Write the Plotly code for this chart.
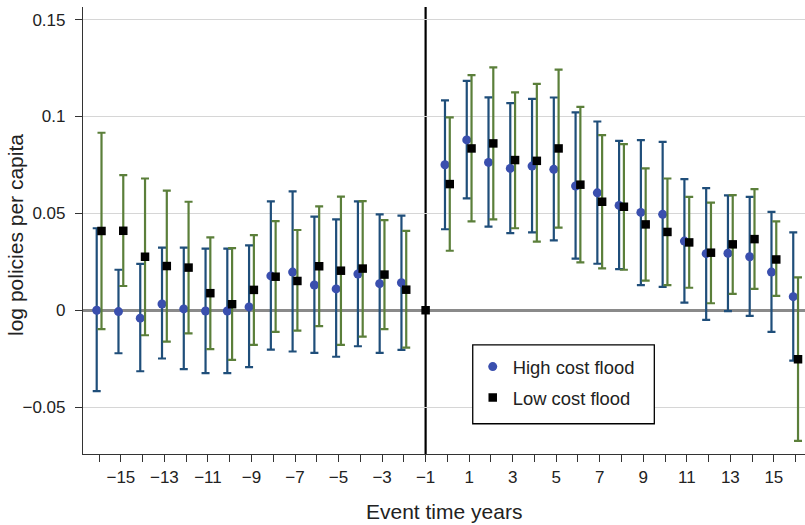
import plotly.graph_objects as go

event_time = list(range(-16, 17))

# High cost flood (blue circles)
high_est = [0.000, -0.0007, -0.0041, 0.0032, 0.0007, -0.0004, -0.0004, 0.0017, 0.0177, 0.0197,
            0.0130, 0.0110, 0.0187, 0.0137, 0.0142, None,
            0.0751, 0.0879, 0.0763, 0.0732, 0.0744, 0.0727, 0.0641, 0.0606, 0.0541, 0.0505,
            0.0495, 0.0357, 0.0292, 0.0294, 0.0276, 0.0197, 0.0070]
high_hi = [0.0423, 0.0209, 0.0239, 0.0323, 0.0323, 0.0318, 0.0318, 0.0335, 0.0562, 0.0613,
           0.0483, 0.0469, 0.0562, 0.0495, 0.0488, None,
           0.1083, 0.1184, 0.1099, 0.1069, 0.1091, 0.1098, 0.1021, 0.0974, 0.0874, 0.0878,
           0.0869, 0.0677, 0.0630, 0.0593, 0.0585, 0.0508, 0.0402]
high_lo = [-0.0418, -0.0222, -0.0315, -0.0249, -0.0304, -0.0325, -0.0325, -0.0294, -0.0203, -0.0213,
           -0.0220, -0.0240, -0.0186, -0.0220, -0.0205, None,
           0.0418, 0.0577, 0.0431, 0.0398, 0.0402, 0.0361, 0.0266, 0.0240, 0.0212, 0.0130,
           0.0121, 0.0039, -0.0050, -0.0005, -0.0029, -0.0112, -0.0260]

# Low cost flood (black squares)
low_est = [0.0409, 0.0410, 0.0276, 0.0228, 0.0220, 0.0088, 0.0031, 0.0105, 0.0173, 0.0151,
           0.0227, 0.0204, 0.0215, 0.0184, 0.0106, None,
           0.0651, 0.0835, 0.0861, 0.0775, 0.0771, 0.0835, 0.0648, 0.0560, 0.0534, 0.0443,
           0.0404, 0.0350, 0.0297, 0.0340, 0.0367, 0.0262, -0.0253]
low_hi = [0.0916, 0.0697, 0.0680, 0.0617, 0.0560, 0.0376, 0.0321, 0.0388, 0.0460, 0.0414,
          0.0536, 0.0586, 0.0563, 0.0465, 0.0410, None,
          0.0995, 0.1213, 0.1253, 0.1124, 0.1168, 0.1242, 0.1050, 0.0904, 0.0857, 0.0732,
          0.0680, 0.0585, 0.0555, 0.0594, 0.0625, 0.0459, 0.0170]
low_lo = [-0.0098, 0.0125, -0.0129, -0.0162, -0.0119, -0.0201, -0.0256, -0.0179, -0.0112, -0.0105,
          -0.0082, -0.0179, -0.0136, -0.0098, -0.0193, None,
          0.0307, 0.0459, 0.0469, 0.0423, 0.0354, 0.0426, 0.0247, 0.0216, 0.0209, 0.0153,
          0.0130, 0.0116, 0.0036, 0.0084, 0.0110, 0.0074, -0.0674]

ref_x = [-1]
ref_y = [0.0]

x_tick_vals = list(range(-16, 17))
x_tick_text = [("\u2212" + str(-v) if v < 0 else str(v)) if v % 2 != 0 else "" for v in x_tick_vals]
y_tick_vals = [-0.05, 0, 0.05, 0.1, 0.15]
y_tick_text = ["\u22120.05", "0", "0.05", "0.1", "0.15"]

OFF = 0.11
BLUE_BAR = "#1f4e7a"
GREEN_BAR = "#5b7f3a"
BLUE_DOT = "#3a4fae"
TXT = "#222222"


def split(est, hi, lo):
    up = [None if e is None else h - e for e, h in zip(est, hi)]
    dn = [None if e is None else e - l for e, l in zip(est, lo)]
    return up, dn


hu, hd = split(high_est, high_hi, high_lo)
lu, ld = split(low_est, low_hi, low_lo)

fig = go.Figure()
fig.add_trace(go.Scatter(
    x=[t - OFF for t in event_time], y=high_est, mode="markers", name="High cost flood",
    marker=dict(symbol="circle", size=9, color=BLUE_DOT),
    error_y=dict(type="data", array=hu, arrayminus=hd, color=BLUE_BAR, thickness=2.2, width=4),
    legendgroup="a",
))
fig.add_trace(go.Scatter(
    x=[t + OFF for t in event_time], y=low_est, mode="markers", name="Low cost flood",
    marker=dict(symbol="square", size=8.5, color="black"),
    error_y=dict(type="data", array=lu, arrayminus=ld, color=GREEN_BAR, thickness=2.2, width=4),
    legendgroup="b",
))
fig.add_trace(go.Scatter(
    x=ref_x, y=ref_y, mode="markers", showlegend=False,
    marker=dict(symbol="square", size=8.5, color="black"),
))

fig.add_shape(type="line", xref="x", yref="paper", x0=-1, x1=-1, y0=0, y1=1,
              line=dict(color="black", width=2.2), layer="between")
# legend frame
fig.add_shape(type="rect", xref="paper", yref="paper", x0=0.5398, x1=0.7913, y0=0.0677, y1=0.2442,
              line=dict(color="black", width=1.3), fillcolor="white", layer="above")

fig.add_annotation(text="Event time years", xref="paper", yref="paper", x=0.5, y=-0.129,
                   xanchor="center", yanchor="middle", showarrow=False,
                   font=dict(size=21, color=TXT))
fig.add_annotation(text="log policies per capita", xref="paper", yref="paper",
                   x=(16 - 83) / 722, y=0.49, textangle=-90,
                   xanchor="center", yanchor="middle", showarrow=False,
                   font=dict(size=21, color=TXT))

font = "Liberation Sans, Arial, Helvetica, sans-serif"
fig.update_layout(
    width=805, height=525,
    margin=dict(l=83, r=0, t=7, b=71, autoexpand=False),
    paper_bgcolor="white", plot_bgcolor="white",
    font=dict(family=font, size=17, color=TXT),
    showlegend=True,
    legend=dict(x=0.5398, y=0.2368, xanchor="left", yanchor="top",
                borderwidth=0, bgcolor="rgba(0,0,0,0)",
                font=dict(size=18.4, color=TXT), tracegroupgap=4),
    xaxis=dict(range=[-16.74, 16.43], tickmode="array", tickvals=x_tick_vals, ticktext=x_tick_text,
               showgrid=False, zeroline=False, showline=True, linecolor="#333333", linewidth=1.2,
               ticks="outside", ticklen=7, tickcolor="#333333", tickwidth=1.2,
               tickfont=dict(size=17), ticklabelstandoff=0, automargin=False),
    yaxis=dict(range=[-0.0742, 0.1565], tickmode="array", tickvals=y_tick_vals, ticktext=y_tick_text,
               showgrid=True, gridcolor="#d6d6d6", gridwidth=1,
               zeroline=True, zerolinecolor="#8a8a8a", zerolinewidth=2.5,
               showline=True, linecolor="#333333", linewidth=1.2,
               ticks="outside", ticklen=7, tickcolor="#333333", tickwidth=1.2,
               tickfont=dict(size=17), ticklabelstandoff=6, automargin=False),
)

fig.write_html("out.html", config={"displayModeBar": False},
               post_script="document.body.style.margin='0';document.body.style.padding='0';")
